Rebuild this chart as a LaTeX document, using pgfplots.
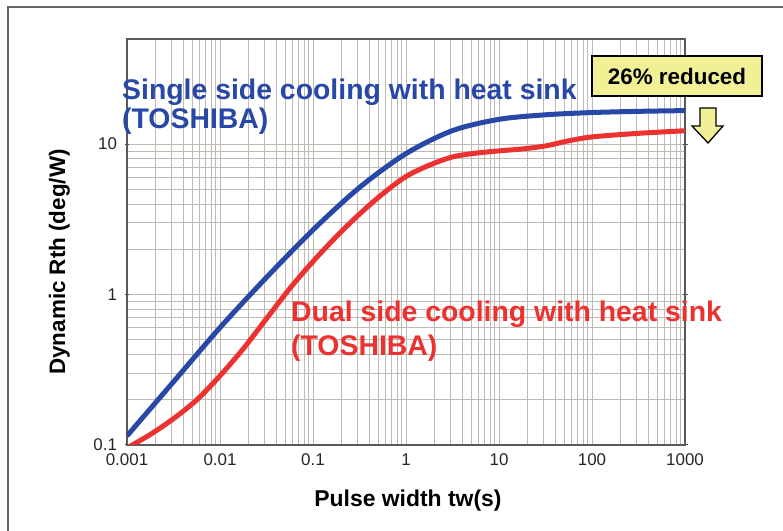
\documentclass[border=0pt]{standalone}
\usepackage{fontspec}
\setmainfont{Liberation Sans}
\usepackage{pgfplots}
\pgfplotsset{compat=1.18}
\definecolor{cblue}{RGB}{40,72,168}
\definecolor{cred}{RGB}{236,50,48}
\definecolor{gridc}{RGB}{192,186,180}
\definecolor{boxy}{RGB}{242,240,150}
\begin{document}
\begin{tikzpicture}[x=1bp,y=1bp]
\useasboundingbox (0,0) rectangle (783,531);
\fill[white] (0,0) rectangle (783,531);
\draw[black!60, line width=1.2bp] (8,0) -- (8,524) -- (783,524);
\begin{axis}[
 at={(127bp,86bp)}, anchor=south west,
 scale only axis, width=558bp, height=406bp,
 xmode=log, ymode=log,
 xmin=0.001, xmax=1000, ymin=0.1, ymax=50,
 xtick={0.001,0.01,0.1,1,10,100,1000},
 xticklabels={0.001,0.01,0.1,1,10,100,1000},
 ytick={0.1,1,10},
 yticklabels={0.1,1,10},
 grid=both,
 major grid style={gridc, line width=1bp},
 minor grid style={gridc, line width=0.9bp},
 axis line style={black!65, line width=1.2bp},
 xtick style={draw=none},
 ytick style={black!70, line width=1bp},
 minor tick style={draw=none},
 major tick length=5bp,
 tick align=center,
 ticklabel style={font=\fontsize{17}{20}\selectfont, text=black!85},
 xticklabel style={yshift=-3bp},
 yticklabel style={xshift=-4bp},
]
\addplot[cblue, line width=5bp, smooth] coordinates {
(0.001,0.115) (0.00316,0.263) (0.01,0.603) (0.0316,1.30) (0.1,2.69) (0.316,5.15) (1,8.65) (3.16,12.3) (10,14.62) (31.6,15.67) (100,16.22) (316,16.52) (1000,16.71)
};
\addplot[cred, line width=5bp, smooth] coordinates {
(0.001,0.0955) (0.00178,0.1175) (0.00316,0.1496) (0.00562,0.1995) (0.01,0.2884) (0.0178,0.4365) (0.0316,0.6918) (0.0562,1.096) (0.1,1.66) (0.178,2.427) (0.316,3.428) (0.562,4.677) (1,6.095) (1.78,7.244) (3.16,8.222) (5.62,8.71) (10,9.016) (17.8,9.29) (31.6,9.73) (56.2,10.52) (100,11.17) (316,11.8) (1000,12.27)
};
\end{axis}
\node[anchor=base west, inner sep=0pt, text=cblue, font={\fontsize{28.5}{30}\selectfont\bfseries}] at (122,431) {Single side cooling with heat sink};
\node[anchor=base west, inner sep=0pt, text=cblue, font={\fontsize{28.5}{30}\selectfont\bfseries}] at (122,402) {(TOSHIBA)};
\node[anchor=base west, inner sep=0pt, text=cred, font={\fontsize{28.5}{30}\selectfont\bfseries}] at (291,209) {Dual side cooling with heat sink};
\node[anchor=base west, inner sep=0pt, text=cred, font={\fontsize{28.5}{30}\selectfont\bfseries}] at (291,175) {(TOSHIBA)};
\draw[black, line width=1.5bp, fill=boxy] (592,435) rectangle (762,475);
\node[anchor=base, inner sep=0pt, font={\fontsize{22.5}{25}\selectfont\bfseries}] at (677,446) {26\% reduced};
\draw[black, line width=1.3bp, fill=boxy] (700,423)--(716,423)--(716,405)--(723,405)--(708,388)--(692,405)--(700,405)--cycle;
\node[anchor=base, inner sep=0pt, font={\fontsize{23}{26}\selectfont\bfseries}] at (408,24) {Pulse width tw(s)};
\node[rotate=90, anchor=base, inner sep=0pt, font={\fontsize{22.5}{26}\selectfont\bfseries}] at (65,269) {Dynamic Rth (deg/W)};
\end{tikzpicture}
\end{document}
